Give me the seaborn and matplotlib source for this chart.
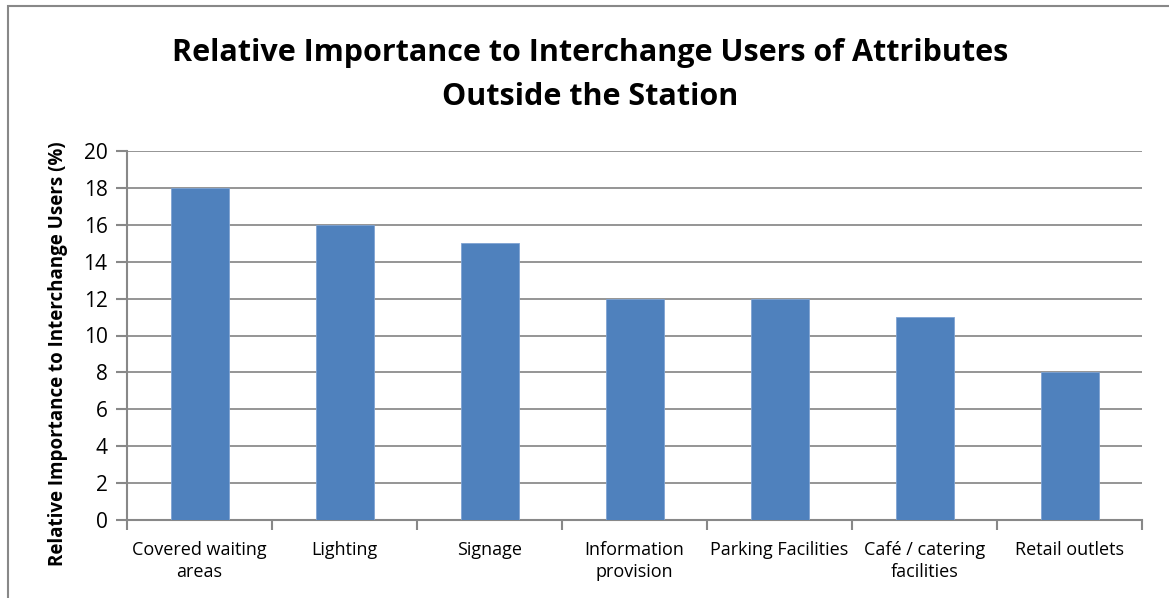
import matplotlib
matplotlib.use('Agg')
import matplotlib.pyplot as plt
import seaborn as sns
import pandas as pd
from matplotlib.patches import Rectangle

categories = ['Covered waiting\nareas', 'Lighting', 'Signage', 'Information\nprovision',
              'Parking Facilities', 'Café / catering\nfacilities', 'Retail outlets']
values = [18, 16, 15, 12, 12, 11, 8]
y_ticks = list(range(0, 21, 2))

sns.set_theme(style='white')
plt.rcParams['font.family'] = ['Open Sans', 'DejaVu Sans']
plt.rcParams['text.color'] = 'black'
plt.rcParams['axes.labelcolor'] = 'black'
plt.rcParams['xtick.color'] = 'black'
plt.rcParams['ytick.color'] = 'black'

df = pd.DataFrame({'attribute': categories, 'importance': values})

fig = plt.figure(figsize=(11.69, 5.98), dpi=100)
ax = fig.add_axes([127 / 1169, 1 - 520 / 598, (1142 - 127) / 1169, (520 - 151) / 598])

sns.barplot(data=df, x='attribute', y='importance', color='#4F81BD', saturation=1,
            width=0.4, ax=ax, zorder=3, edgecolor='#7fa3d3', linewidth=0.6)

ax.set_ylim(0, 20)
ax.set_xlim(-0.5, len(categories) - 0.5)
ax.set_yticks(y_ticks)
ax.set_yticklabels([str(t) for t in y_ticks], fontsize=15)
ax.set_xticks(range(len(categories)))
ax.set_xticklabels(categories, fontsize=13, linespacing=1.3)
ax.tick_params(axis='x', length=0, pad=15)
ax.tick_params(axis='y', length=8, color='#888888', width=1.5, left=True, pad=6)

# minor ticks between categories
ax.set_xticks([i - 0.5 for i in range(len(categories) + 1)], minor=True)
ax.tick_params(axis='x', which='minor', length=7, color='#888888', width=1.5, bottom=True)

ax.yaxis.grid(True, color='#8c8c8c', linewidth=1.3, zorder=0)
ax.set_axisbelow(True)
for side in ['top', 'right']:
    ax.spines[side].set_visible(False)
for side in ['left', 'bottom']:
    ax.spines[side].set_color('#888888')
    ax.spines[side].set_linewidth(1.5)

ax.set_xlabel('')
ax.set_ylabel('Relative Importance to Interchange Users (%)', fontsize=13.5,
              fontweight='bold')
ax.yaxis.set_label_coords(-0.058, 0.45)

fig.text(590 / 1169, 1 - 75 / 598,
         'Relative Importance to Interchange Users of Attributes\nOutside the Station',
         ha='center', va='center', fontsize=22, fontweight='bold', linespacing=1.6)

# chart frame (left and top edges visible)
fig.patches.append(Rectangle((8 / 1169, -0.1), 1.2, 1 - 6 / 598 + 0.1,
                             transform=fig.transFigure, fill=False,
                             edgecolor='#888888', linewidth=1.5))

fig.savefig('out.png', dpi=100)
plt.close()
